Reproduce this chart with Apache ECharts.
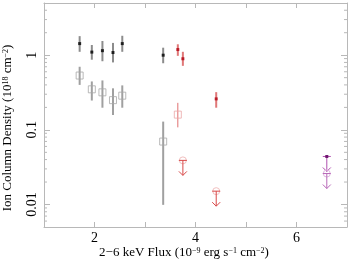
<!DOCTYPE html>
<html><head><meta charset="utf-8">
<script src="https://cdn.jsdelivr.net/npm/echarts@6/dist/echarts.min.js"></script>
<style>html,body{margin:0;padding:0;background:#fff}#c{width:350px;height:262px}</style>
</head><body><div id="c"></div>
<script>
// ---- data ----
const blackFlux = [1.706, 1.947, 2.157, 2.366, 2.55, 3.36];
const blackVal  = [1.43, 1.10, 1.15, 1.085, 1.43, 1.0];
const blackLo   = [1.11, 0.87, 0.83, 0.80, 1.11, 0.78];
const blackHi   = [1.80, 1.37, 1.55, 1.46, 1.82, 1.26];

const greyFlux = [1.706, 1.947, 2.157, 2.366, 2.55, 3.36];
const greyVal  = [0.534, 0.349, 0.318, 0.25, 0.287, 0.0697];
const greyLo   = [0.40, 0.247, 0.198, 0.158, 0.198, 0.0099];
const greyHi   = [0.70, 0.445, 0.459, 0.36, 0.394, 0.129];

const redFlux = [3.65, 3.75, 4.41];
const redVal  = [1.19, 0.896, 0.26];
const redLo   = [0.98, 0.72, 0.198];
const redHi   = [1.40, 1.11, 0.32];

const pinkFlux = [3.65];
const pinkVal  = [0.16];
const pinkLo   = [0.108];
const pinkHi   = [0.23];

const pinkLimFlux = [3.75, 4.41];
const pinkLimVal  = [0.039, 0.0151];

const purpleLimFlux = [6.60];
const purpleLimVal  = [0.044];
const lilacLimFlux  = [6.60];
const lilacLimVal   = [0.026];

const xTicks = [1, 2, 3, 4, 5, 6, 7];
const xLabels = ['2', '4', '6'];
const yLabels = ['1', '0.1', '0.01'];
const yMinorTicks = [0.006,0.007,0.008,0.009,0.02,0.03,0.04,0.05,0.06,0.07,0.08,0.09,
                     0.2,0.3,0.4,0.5,0.6,0.7,0.8,0.9,2,3,4];

const X_MIN = 1, X_MAX = 7, Y_MIN = 0.005, Y_MAX = 5;

const zip3 = (a, b, c) => a.map((v, i) => [v, b[i], c[i]]);
const zip2 = (a, b) => a.map((v, i) => [v, b[i]]);

function errBar(color, width) {
  return function (params, api) {
    const p1 = api.coord([api.value(0), api.value(1)]);
    const p2 = api.coord([api.value(0), api.value(2)]);
    return { type: 'line', shape: { x1: p1[0], y1: p1[1], x2: p2[0], y2: p2[1] },
             style: { stroke: color, lineWidth: width } };
  };
}
function upperLimit(color, circle, dot) {
  return function (params, api) {
    const p = api.coord([api.value(0), api.value(1)]);
    const x = p[0], y = p[1], L = 15, w = 4, ah = 4;
    const children = [];
    if (circle) children.push({ type: 'circle', shape: { cx: x, cy: y, r: 3.5 },
      style: { fill: 'rgba(0,0,0,0)', stroke: circle, lineWidth: 1 } });
    children.push(
      { type: 'line', shape: { x1: x - w, y1: y, x2: x + w, y2: y }, style: { stroke: color, lineWidth: 1 } },
      { type: 'line', shape: { x1: x, y1: y, x2: x, y2: y + L }, style: { stroke: color, lineWidth: 1 } },
      { type: 'polyline', shape: { points: [[x - ah, y + L - ah], [x, y + L], [x + ah, y + L - ah]] },
        style: { stroke: color, lineWidth: 1, fill: null } }
    );
    if (dot) children.push({ type: 'rect', shape: { x: x - 1.5, y: y - 1.5, width: 3, height: 3 }, style: { fill: dot } });
    return { type: 'group', children };
  };
}
function minorTicks(color) {
  return function (params, api) {
    const v = api.value(0);
    const l = api.coord([X_MIN, v]);
    const r = api.coord([X_MAX, v]);
    return { type: 'group', children: [
      { type: 'line', shape: { x1: l[0], y1: l[1], x2: l[0] + 3, y2: l[1] }, style: { stroke: color, lineWidth: 1 } },
      { type: 'line', shape: { x1: r[0], y1: r[1], x2: r[0] - 3, y2: r[1] }, style: { stroke: color, lineWidth: 1 } }
    ] };
  };
}

const axisGrey = '#b8b8b8';
const serif = '"Liberation Serif", "DejaVu Serif", serif';

const isPow10 = v => Math.abs(Math.log10(v) - Math.round(Math.log10(v))) < 1e-6;
const yLabelFmt = v => {
  if (!isPow10(v)) return '';
  const s = String(Number(v.toPrecision(6)));
  return yLabels.indexOf(s) >= 0 ? s : '';
};
const xLabelFmt = v => {
  const s = String(Math.round(v));
  return (Math.abs(v - Math.round(v)) < 1e-6 && xLabels.indexOf(s) >= 0) ? s : '';
};

const chart = echarts.init(document.getElementById('c'), null, { renderer: 'canvas' });
chart.setOption({
  animation: false,
  backgroundColor: '#fff',
  grid: { left: 44, right: 1, top: 0, bottom: 35, containLabel: false },
  xAxis: [
    { type: 'value', min: X_MIN, max: X_MAX, interval: 1, position: 'bottom',
      axisLine: { show: true, lineStyle: { color: axisGrey, width: 1 } },
      axisTick: { show: true, inside: true, length: 5, lineStyle: { color: axisGrey } },
      axisLabel: { formatter: xLabelFmt, color: '#000', fontFamily: serif, fontSize: 14, margin: 4 },
      splitLine: { show: false } },
    { type: 'value', min: X_MIN, max: X_MAX, interval: 1, position: 'top',
      axisLine: { show: true, lineStyle: { color: axisGrey, width: 1 } },
      axisTick: { show: true, inside: true, length: 5, lineStyle: { color: axisGrey } },
      axisLabel: { show: false }, splitLine: { show: false } }
  ],
  yAxis: [
    { type: 'log', logBase: 10, min: Y_MIN, max: Y_MAX, position: 'left',
      axisLine: { show: true, lineStyle: { color: axisGrey, width: 1 } },
      axisTick: { show: true, inside: true, length: 6, lineStyle: { color: axisGrey } },
      axisLabel: { formatter: yLabelFmt, rotate: 90, color: '#000', fontFamily: serif, fontSize: 14, margin: 5 },
      splitLine: { show: false } },
    { type: 'log', logBase: 10, min: Y_MIN, max: Y_MAX, position: 'right',
      axisLine: { show: true, lineStyle: { color: axisGrey, width: 1 } },
      axisTick: { show: true, inside: true, length: 6, lineStyle: { color: axisGrey } },
      axisLabel: { show: false }, splitLine: { show: false } }
  ],
  series: [
    { type: 'custom', renderItem: minorTicks(axisGrey), data: yMinorTicks.map(v => [v]),
      encode: { y: 0 }, silent: true, z: 1 },
    // error bars
    { type: 'custom', renderItem: errBar('#a0a0a0', 2), data: zip3(greyFlux, greyLo, greyHi), z: 2 },
    { type: 'custom', renderItem: errBar('#8c8c8c', 2), data: zip3(blackFlux, blackLo, blackHi), z: 3 },
    { type: 'custom', renderItem: errBar('#e07878', 2), data: zip3(redFlux, redLo, redHi), z: 3 },
    { type: 'custom', renderItem: errBar('#e07070', 1), data: zip3(pinkFlux, pinkLo, pinkHi), z: 3 },
    // markers
    { type: 'scatter', data: zip2(greyFlux, greyVal), symbol: 'rect', symbolSize: 7,
      itemStyle: { color: 'rgba(255,255,255,0)', borderColor: '#a8a8a8', borderWidth: 1 }, z: 4 },
    { type: 'scatter', data: zip2(blackFlux, blackVal), symbol: 'rect', symbolSize: 3,
      itemStyle: { color: '#000' }, z: 5 },
    { type: 'scatter', data: zip2(redFlux, redVal), symbol: 'rect', symbolSize: 3,
      itemStyle: { color: '#b00010' }, z: 5 },
    { type: 'scatter', data: zip2(pinkFlux, pinkVal), symbol: 'rect', symbolSize: 7,
      itemStyle: { color: 'rgba(255,255,255,0)', borderColor: '#eba8a8', borderWidth: 1 }, z: 4 },
    // upper limits
    { type: 'custom', renderItem: upperLimit('#d84848', '#f2c0c0', null), data: zip2(pinkLimFlux, pinkLimVal), z: 4 },
    { type: 'custom', renderItem: upperLimit('#b050b0', null, '#701870'), data: zip2(purpleLimFlux, purpleLimVal), z: 4 },
    { type: 'custom', renderItem: upperLimit('#b868b8', '#e0b8e0', null), data: zip2(lilacLimFlux, lilacLimVal), z: 4 }
  ],
  graphic: [
    { type: 'text', x: 8, y: 128, rotation: Math.PI / 2,
      style: { text: '{n|Ion Column Density (10}{s|18}{n| cm}{s|−2}{n|)}',
        align: 'center', verticalAlign: 'middle', fill: '#000',
        rich: { n: { fontFamily: serif, fontSize: 13, fill: '#000' },
                s: { fontFamily: serif, fontSize: 8, fill: '#000', verticalAlign: 'top' } } } },
    { type: 'text', x: 184, y: 253,
      style: { text: '{n|2−6 keV Flux (10}{s|−9}{n| erg s}{s|−1}{n| cm}{s|−2}{n|)}',
        align: 'center', verticalAlign: 'middle', fill: '#000',
        rich: { n: { fontFamily: serif, fontSize: 13, fill: '#000' },
                s: { fontFamily: serif, fontSize: 8, fill: '#000', verticalAlign: 'top' } } } }
  ]
});
</script></body></html>
